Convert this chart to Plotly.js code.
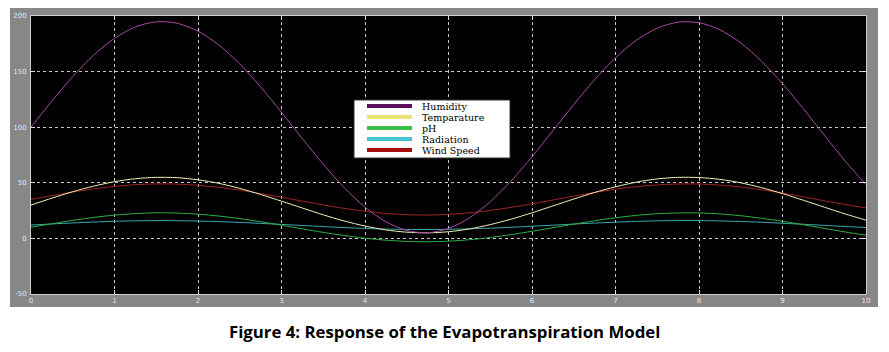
<!DOCTYPE html>
<html>
<head>
<meta charset="utf-8">
<script src="https://cdn.plot.ly/plotly-3.0.1.min.js"></script>
<style>
  html, body { margin:0; padding:0; background:#ffffff; }
  #frame { position:absolute; left:10px; top:8px; width:868px; height:299px; background:#878787; }
  #chart { position:absolute; left:0; top:0; width:889px; height:352px; }
</style>
</head>
<body>
<div id="frame"></div>
<div id="chart"></div>
<script>
// ---- data ----
const time = [0,0.25,0.5,0.75,1,1.25,1.5,1.75,2,2.25,2.5,2.75,3,3.25,3.5,3.75,4,4.25,4.5,4.75,5,5.25,5.5,5.75,6,6.25,6.5,6.75,7,7.25,7.5,7.75,8,8.25,8.5,8.75,9,9.25,9.5,9.75,10];
const humidity = [100,123.5,145.5,164.8,179.9,190.2,194.8,193.5,186.4,173.9,156.9,136.3,113.4,89.7,66.7,45.7,28.1,15.0,7.1,5.1,8.9,18.4,33.0,51.7,73.5,96.8,120.4,142.8,162.4,178.2,189.1,194.5,194.0,187.6,175.8,159.3,139.2,116.5,92.9,69.6,48.3];
const temperature = [30,36.2,42.0,47.0,51.0,53.7,54.9,54.6,52.7,49.5,45.0,39.5,33.5,27.3,21.2,15.7,11.1,7.6,5.6,5.0,6.0,8.5,12.4,17.3,23.0,29.2,35.4,41.3,46.4,50.6,53.5,54.9,54.7,53.1,50.0,45.6,40.3,34.3,28.1,22.0,16.4];
const ph = [10,13.2,16.2,18.9,20.9,22.3,23.0,22.8,21.8,20.1,17.8,15.0,11.8,8.6,5.4,2.6,0.2,-1.6,-2.7,-3.0,-2.5,-1.2,0.8,3.4,6.4,9.6,12.8,15.9,18.5,20.7,22.2,22.9,22.9,22.0,20.4,18.1,15.4,12.3,9.0,5.8,2.9];
const radiation = [12,13.0,13.9,14.7,15.4,15.8,16.0,15.9,15.6,15.1,14.4,13.5,12.6,11.6,10.6,9.7,9.0,8.4,8.1,8.0,8.2,8.6,9.2,10.0,10.9,11.9,12.9,13.8,14.6,15.3,15.8,16.0,16.0,15.7,15.2,14.5,13.6,12.7,11.7,10.7,9.8];
const windSpeed = [35,38.5,41.7,44.5,46.8,48.3,49.0,48.8,47.7,45.9,43.4,40.3,37.0,33.5,30.1,27.0,24.4,22.5,21.3,21.0,21.6,23.0,25.1,27.9,31.1,34.5,38.0,41.3,44.2,46.5,48.1,48.9,48.9,47.9,46.2,43.7,40.8,37.4,33.9,30.5,27.4];

const seriesNames = ["Humidity","Temparature","pH","Radiation","Wind Speed"];
const seriesValues = [humidity, temperature, ph, radiation, windSpeed];
const lineColors = ["#a64aa6","#f2efb8","#2fae45","#3aa8b0","#a42222"];
const legendColors = ["#5e0f5e","#ece27a","#3cc24a","#48c4cc","#a80c0c"];

const xTicks = [0,1,2,3,4,5,6,7,8,9,10];
const yTicks = [-50,0,50,100,150,200];
const caption = "Figure 4: Response of the Evapotranspiration Model";

// ---- traces ----
const traces = seriesNames.map((n, i) => ({
  type: "scatter", mode: "lines", name: n,
  x: time, y: seriesValues[i],
  line: { color: lineColors[i], width: 1, shape: "spline", smoothing: 0.8 },
  showlegend: false
}));
traces.reverse();

// ---- geometry helpers (pixels -> paper) ----
const W = 889, H = 352;
const M = { l: 31, r: 23, t: 16, b: 58 };
const pw = W - M.l - M.r, ph_ = H - M.t - M.b;
const px = x => (x - M.l) / pw;
const py = y => (H - M.b - y) / ph_;

// legend box drawn like the scope legend in the reference
const shapes = [{
  type: "rect", xref: "paper", yref: "paper",
  x0: px(354), x1: px(510), y0: py(158), y1: py(100),
  fillcolor: "#ffffff", line: { color: "#333333", width: 1 }
}];
const annotations = [];
seriesNames.forEach((n, i) => {
  const yy = 106 + i * 11;
  shapes.push({
    type: "line", xref: "paper", yref: "paper",
    x0: px(367), x1: px(412), y0: py(yy), y1: py(yy),
    line: { color: legendColors[i], width: 4 }
  });
  annotations.push({
    xref: "paper", yref: "paper", x: px(421), y: py(yy + 0.5),
    xanchor: "left", yanchor: "middle", showarrow: false, borderpad: 0,
    text: n, font: { family: "DejaVu Serif, Liberation Serif, serif", size: 9.5, color: "#000000" }
  });
});
annotations.push({
  xref: "paper", yref: "paper", x: px(444), y: py(331),
  xanchor: "center", yanchor: "middle", showarrow: false,
  text: "<b>" + caption + "</b>",
  font: { family: "Open Sans, Liberation Sans, sans-serif", size: 16.8, color: "#000000" }
});

const axisCommon = {
  showgrid: true, gridcolor: "#c8c8c8", gridwidth: 1, griddash: "dot",
  zeroline: false, showline: true, linecolor: "#cfcfcf", linewidth: 1, mirror: "ticks",
  ticks: "inside", ticklen: 4, tickcolor: "#e0e0e0",
  tickfont: { family: "DejaVu Sans, sans-serif", size: 7, color: "#e6e6e6" }
};

const layout = {
  width: W, height: H,
  margin: M,
  paper_bgcolor: "rgba(0,0,0,0)",
  plot_bgcolor: "#000000",
  showlegend: false,
  xaxis: Object.assign({}, axisCommon, { range: [0, 10], tickvals: xTicks, ticktext: xTicks.map(String) }),
  yaxis: Object.assign({}, axisCommon, { range: [-50, 200], tickvals: yTicks, ticktext: yTicks.map(String), ticklabelstandoff: 2 }),
  shapes: shapes,
  annotations: annotations
};

Plotly.newPlot("chart", traces, layout, { displayModeBar: false, staticPlot: true });
</script>
</body>
</html>
